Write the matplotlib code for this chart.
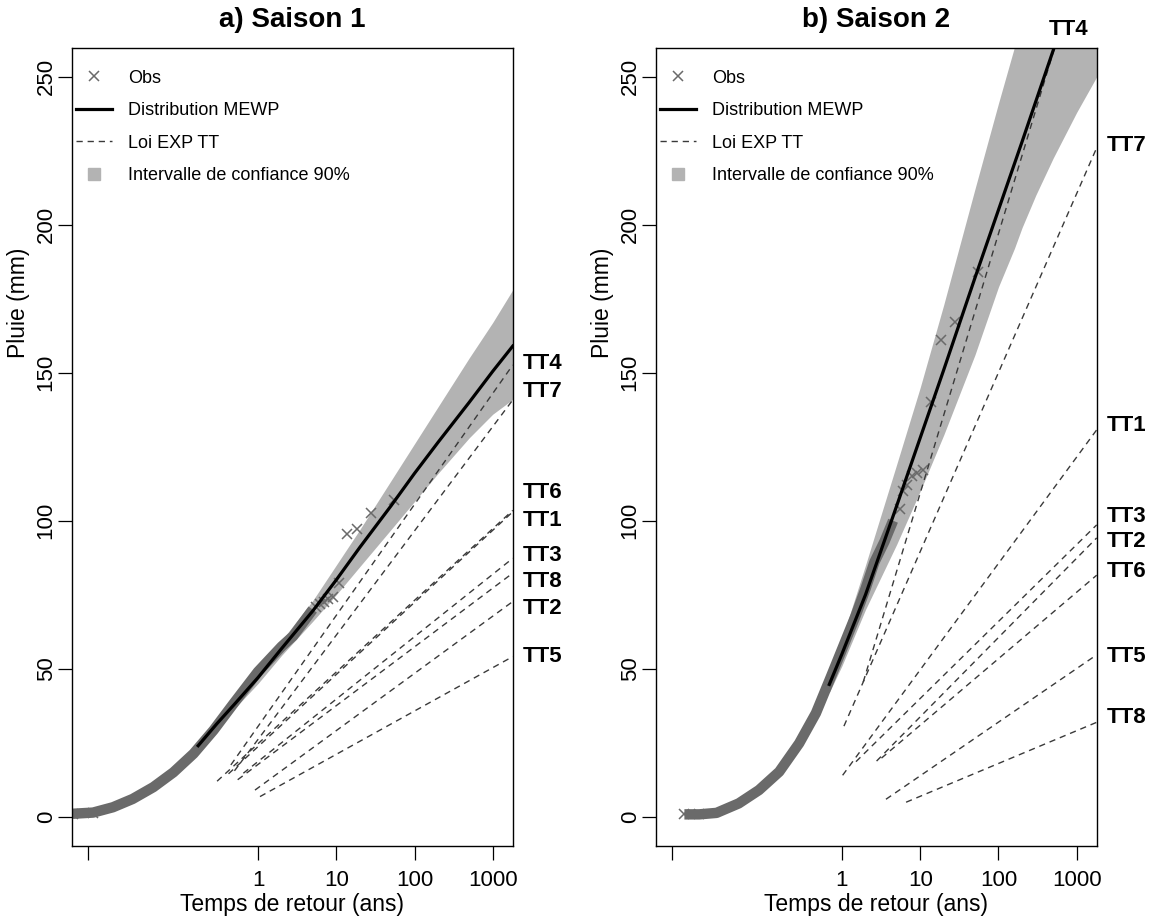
import matplotlib
matplotlib.use("Agg")
import matplotlib.pyplot as plt
from matplotlib.lines import Line2D

plt.rcParams['font.family'] = ['Liberation Sans', 'DejaVu Sans']

T_MAX = 1800
YLIM = (-9.9, 259.8)
tt_names = ['TT1', 'TT2', 'TT3', 'TT4', 'TT5', 'TT6', 'TT7', 'TT8']

# ---- Saison 1 ----
s1_obs_t = [0.0043, 0.0078, 0.014, 0.025, 0.046, 0.083, 0.15, 0.27, 0.48, 1.0, 2.0, 2.8, 5.0]
s1_obs_y = [1.0, 1.4, 3.2, 6.0, 10.0, 15.0, 21.3, 29.2, 38.0, 49.0, 57.5, 61.0, 70.0]
s1_top_t = [5.5, 6.11, 6.88, 7.86, 9.17, 11.0, 13.75, 18.3, 27.5, 55.0]
s1_top_y = [71.0, 72.0, 72.5, 73.5, 74.2, 78.8, 95.5, 97.3, 102.6, 107.0]
s1_fit_t = [0.172, 0.3, 0.5, 1, 2, 5, 10, 20, 50, 100, 200, 500, 1000, 1800]
s1_fit_y = [24, 31.5, 38, 47, 56.8, 69.5, 80, 91, 105, 116, 126.5, 140, 150.5, 159]
s1_ci_t = [0.172, 0.5, 1, 2, 5, 10, 20, 50, 100, 200, 500, 1000, 1800]
s1_ci_lo = [23, 36.5, 45, 54.5, 66, 75, 84.5, 97, 106.5, 116, 128, 136, 141]
s1_ci_hi = [25, 39.5, 49, 59.5, 73, 85, 97, 113.5, 126, 138.5, 155, 167, 178]
s1_tt_t0 = [0.42, 0.915, 0.65, 0.45, 1.06, 0.30, 0.50, 0.55]
s1_tt_y0 = [14.5, 9.0, 14.7, 17.5, 6.8, 12.0, 15.5, 12.5]
s1_tt_y1 = [103.0, 72.7, 87.3, 152.6, 54.1, 103.5, 140.8, 82.3]
s1_lab_y = [100.2, 70.5, 88.1, 153.0, 54.0, 109.7, 143.5, 79.6]

# ---- Saison 2 ----
s2_obs_t = [0.0097, 0.015, 0.025, 0.048, 0.087, 0.158, 0.284, 0.465, 0.69, 1.0, 1.5, 2.0, 2.6, 3.5, 4.5]
s2_obs_y = [0.8, 0.8, 1.3, 4.5, 9.0, 15.2, 24.8, 35.0, 46.0, 56.5, 68.0, 77.0, 86.0, 93.0, 100.0]
s2_top_t = [5.5, 6.11, 6.88, 7.86, 9.17, 11.0, 13.75, 18.3, 27.5, 55.0]
s2_top_y = [104.0, 110.0, 112.0, 115.0, 116.0, 117.0, 140.0, 161.0, 167.0, 184.0]
s2_fit_t = [0.689, 1, 2, 5, 10, 20, 50, 100, 200, 514]
s2_fit_y = [44.7, 55, 75, 105, 128, 151, 182, 205, 228, 259.8]
s2_ci_t = [0.689, 1, 2, 5, 10, 20, 50, 100, 160, 200, 300, 500, 1000, 1800]
s2_ci_lo = [42, 51, 70, 92, 110, 129, 156, 179, 192, 199, 210, 222.5, 238, 250]
s2_ci_hi = [48, 60, 85, 119, 145, 173, 212, 241, 260, 269, 285, 305, 330, 350]
s2_tt_t0 = [1.02, 2.77, 1.51, 1.87, 3.65, 3.2, 1.06, 6.6]
s2_tt_y0 = [14.0, 18.8, 18.6, 45.5, 5.9, 19.8, 30.6, 4.9]
s2_tt_y1 = [130.7, 94.2, 98.6, 307.0, 54.7, 81.6, 226.0, 31.9]
s2_lab_y = [132.3, 93.1, 101.5, 265.9, 54.0, 82.9, 226.9, 33.4]
s2_tt4_lab_t = 780

OBS_COL = '#6a6a6a'
CI_COL = '#b3b3b3'
TT_COL = '#3a3a3a'


def panel(ax, title, obs_t, obs_y, top_t, top_y, fit_t, fit_y, ci_t, ci_lo, ci_hi,
          t0, y0, y1, lab_y, top_label_t=None):
    ax.set_xscale('log')
    ax.fill_between(ci_t, ci_lo, ci_hi, color=CI_COL, lw=0, zorder=1)
    ax.plot(obs_t, obs_y, color=OBS_COL, lw=7.5, solid_capstyle='butt', zorder=2)
    ax.plot(obs_t[:2], obs_y[:2], 'x', color=OBS_COL, ms=7, mew=1.1, zorder=2)
    ax.plot(top_t, top_y, 'x', color=OBS_COL, ms=7, mew=1.1, zorder=2)
    for i in range(len(tt_names)):
        ax.plot([t0[i], T_MAX], [y0[i], y1[i]], color=TT_COL, lw=1.0,
                dashes=(4.5, 3.5), zorder=3)
    ax.plot(fit_t, fit_y, color='black', lw=2.3, zorder=4)

    for i, name in enumerate(tt_names):
        if lab_y[i] > YLIM[1]:
            ax.text(top_label_t, lab_y[i], name, fontsize=16, fontweight='bold',
                    ha='center', va='center', clip_on=False)
        else:
            ax.annotate(name, xy=(1, lab_y[i]), xycoords=('axes fraction', 'data'),
                        xytext=(10, 0), textcoords='offset pixels',
                        fontsize=16, fontweight='bold', ha='left', va='center',
                        annotation_clip=False)

    ax.set_xlim(0.0042, T_MAX)
    ax.set_ylim(*YLIM)
    ax.set_xticks([1 / 150, 1, 10, 100, 1000])
    ax.set_xticklabels(['', '1', '10', '100', '1000'])
    ax.minorticks_off()
    ax.set_yticks([0, 50, 100, 150, 200, 250])
    ax.tick_params(axis='x', length=10, width=0.9, labelsize=16, pad=7)
    ax.tick_params(axis='y', length=10, width=0.9, labelsize=16, pad=1)
    for lab in ax.get_yticklabels():
        lab.set_rotation(90)
        lab.set_va('center')
    for sp in ax.spines.values():
        sp.set_linewidth(1.0)
    ax.set_xlabel('Temps de retour (ans)', fontsize=16.5)
    ax.set_ylabel('Pluie (mm)', fontsize=16.5)
    ax.xaxis.set_label_coords(0.5, -0.059)
    ax.yaxis.set_label_coords(-0.095, 0.68)
    ax.text(0.5, 1.035, title, transform=ax.transAxes, fontsize=20,
            fontweight='bold', ha='center', va='center')

    handles = [
        Line2D([], [], ls='none', marker='x', color=OBS_COL, ms=7, mew=1.1),
        Line2D([], [], color='black', lw=2.3),
        Line2D([], [], color=TT_COL, lw=1.0, dashes=(4.5, 3.5)),
        Line2D([], [], ls='none', marker='s', color=CI_COL, ms=8),
    ]
    labels = ['Obs', 'Distribution MEWP', 'Loi EXP TT', 'Intervalle de confiance 90%']
    ax.legend(handles, labels, loc='upper left', bbox_to_anchor=(0.0, 0.977),
              frameon=False, fontsize=13, handlelength=2.0, handletextpad=0.9,
              labelspacing=0.86, borderpad=0.1, borderaxespad=0.1)


fig = plt.figure(figsize=(11.52, 9.21), dpi=100)
ax1 = fig.add_axes([0.0625, 0.0814, 0.3826, 0.8668])
ax2 = fig.add_axes([0.5694, 0.0814, 0.3826, 0.8668])

panel(ax1, 'a) Saison 1', s1_obs_t, s1_obs_y, s1_top_t, s1_top_y, s1_fit_t, s1_fit_y,
      s1_ci_t, s1_ci_lo, s1_ci_hi, s1_tt_t0, s1_tt_y0, s1_tt_y1, s1_lab_y)
panel(ax2, 'b) Saison 2', s2_obs_t, s2_obs_y, s2_top_t, s2_top_y, s2_fit_t, s2_fit_y,
      s2_ci_t, s2_ci_lo, s2_ci_hi, s2_tt_t0, s2_tt_y0, s2_tt_y1, s2_lab_y,
      top_label_t=s2_tt4_lab_t)

fig.savefig('out.png', dpi=100)
